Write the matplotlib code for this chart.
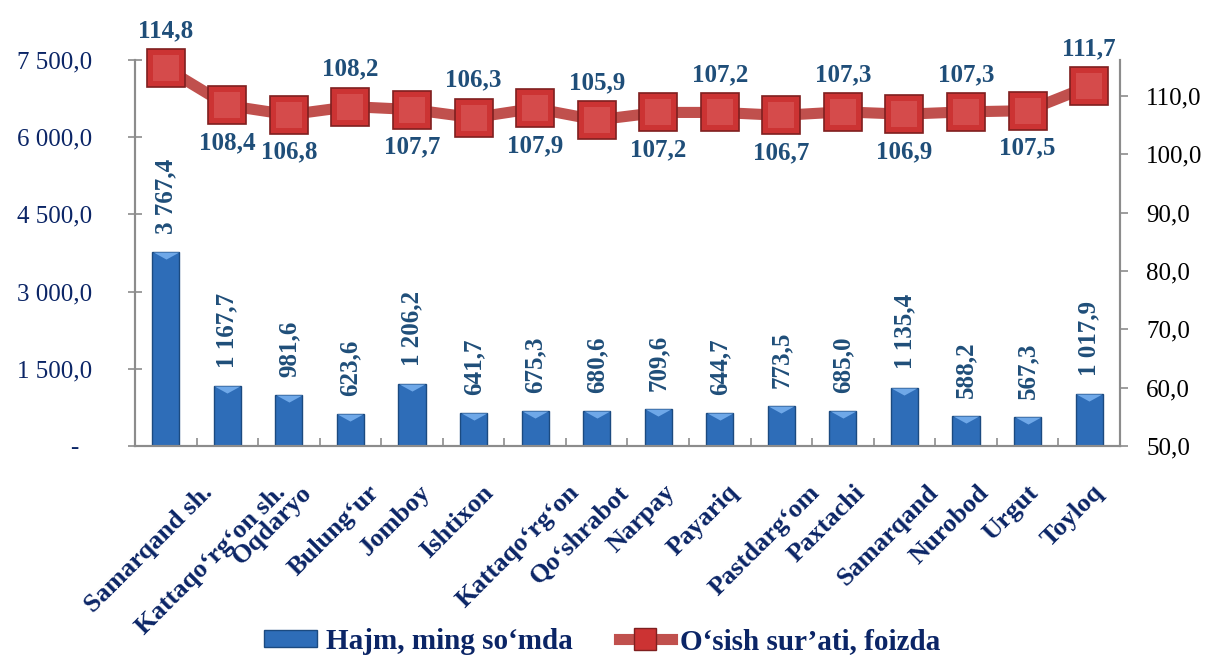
import matplotlib
matplotlib.use("Agg")
import matplotlib.pyplot as plt
from matplotlib.lines import Line2D
from matplotlib.patches import Patch
from matplotlib.path import Path
from matplotlib.markers import MarkerStyle
import numpy as np

categories = ["Samarqand sh.", "Kattaqo‘rg‘on sh.", "Oqdaryo", "Bulung‘ur", "Jomboy",
              "Ishtixon", "Kattaqo‘rg‘on", "Qo‘shrabot", "Narpay", "Payariq",
              "Pastdarg‘om", "Paxtachi", "Samarqand", "Nurobod", "Urgut", "Toyloq"]
volume = [3767.4, 1167.7, 981.6, 623.6, 1206.2, 641.7, 675.3, 680.6, 709.6, 644.7,
          773.5, 685.0, 1135.4, 588.2, 567.3, 1017.9]
growth = [114.8, 108.4, 106.8, 108.2, 107.7, 106.3, 107.9, 105.9, 107.2, 107.2,
          106.7, 107.3, 106.9, 107.3, 107.5, 111.7]
growth_label_above = [True, False, False, True, False, True, False, True, False, True,
                      False, True, False, True, False, True]
left_ticks = [0, 1500, 3000, 4500, 6000, 7500]
right_ticks = [50, 60, 70, 80, 90, 100, 110]
legend_labels = ["Hajm, ming so‘mda", "O‘sish sur’ati, foizda"]

SERIF = ["Liberation Serif", "DejaVu Serif"]
plt.rcParams["font.family"] = SERIF

NAVY = "#0B2566"
LBL = "#1F4E79"
BAR = "#2E6DB8"
BAR_LIGHT = "#6FA8E8"
BAR_EDGE = "#1B4A80"
LINE = "#C0504D"
MARK = "#CC3333"
MARK_EDGE = "#7F1F1F"
MARK_LIGHT = "#E06A6A"
AXC = "#8C8C8C"

fig = plt.figure(figsize=(12.05, 6.61), dpi=100)
ax = fig.add_axes([0.1120, 0.3253, 0.8174, 0.5840])
ax2 = ax.twinx()

x = np.arange(len(categories))
BW = 0.44
ax.bar(x, volume, width=BW, color=BAR, edgecolor=BAR_EDGE, linewidth=1.0, zorder=2)
# bevel highlight at top of each bar
tri = MarkerStyle(Path([(-1, 0), (1, 0), (0, -0.55), (-1, 0)],
                       [Path.MOVETO, Path.LINETO, Path.LINETO, Path.CLOSEPOLY]))
ax.plot(x, volume, linestyle="none", marker=tri, markersize=18.5,
        markerfacecolor=BAR_LIGHT, markeredgewidth=0, zorder=3)
ax.set_xlim(-0.5, len(categories) - 0.5)
ax.set_ylim(0, 7500)

def fmt_left(v):
    if v == 0:
        return "-\u2007"
    s = f"{v:,.1f}"
    return s.replace(",", " ").replace(".", ",")

ax.set_yticks(left_ticks)
ax.set_yticklabels([fmt_left(v) for v in left_ticks])
ax.tick_params(axis="y", direction="inout", length=10, width=1.2, color=AXC,
               labelsize=18, labelcolor=NAVY, pad=26)
ax.set_xticks(x[:-1] + 0.5)
ax.set_xticklabels([])
ax.tick_params(axis="x", direction="in", length=6, width=1.2, color=AXC)

for s in ["top"]:
    ax.spines[s].set_visible(False)
    ax2.spines[s].set_visible(False)
for s in ["left", "bottom", "right"]:
    ax.spines[s].set_color(AXC)
    ax.spines[s].set_linewidth(1.5)
    ax2.spines[s].set_color(AXC)
    ax2.spines[s].set_linewidth(1.5)

# bar value labels
for xi, v in zip(x, volume):
    ax.annotate(fmt_left(v), xy=(xi, v), xytext=(0, 13), textcoords="offset points",
                ha="center", va="bottom", rotation=90, fontsize=18, fontweight="bold",
                color=LBL, annotation_clip=False)

# category labels
for xi, c in zip(x, categories):
    ax.annotate(c, xy=(xi, 0), xycoords=("data", "axes fraction"), xytext=(-12, -25),
                textcoords="offset points", ha="center", va="top", rotation=45,
                fontsize=19, fontweight="bold", color=NAVY, annotation_clip=False)

# growth line
ax2.plot(x, growth, color=LINE, linewidth=8, solid_capstyle="butt", zorder=3,
         clip_on=False)
ax2.plot(x, growth, linestyle="none", marker="s", markersize=27, markerfacecolor=MARK,
         markeredgecolor=MARK_EDGE, markeredgewidth=1.2, zorder=4, clip_on=False)
ax2.plot(x, growth, linestyle="none", marker="s", markersize=19, markerfacecolor=MARK_LIGHT,
         markeredgewidth=0, alpha=0.45, zorder=4.5, clip_on=False)
ax2.set_ylim(50, 116.2)
ax2.set_yticks(right_ticks)
ax2.set_yticklabels([f"{v:.1f}".replace(".", ",") for v in right_ticks])
ax2.tick_params(axis="y", direction="out", length=6, width=1.2, color=AXC,
                labelsize=18, labelcolor="black", pad=13)

for xi, v, above in zip(x, growth, growth_label_above):
    ax2.annotate(f"{v:.1f}".replace(".", ","), xy=(xi, v),
                 xytext=(0, 27 if above else -27), textcoords="offset points",
                 ha="center", va="center", fontsize=18, fontweight="bold",
                 color=LBL, annotation_clip=False, zorder=5)

handles = [Patch(facecolor=BAR, edgecolor=BAR_EDGE),
           Line2D([0], [0], color=LINE, linewidth=8, marker="s", markersize=16,
                  markerfacecolor=MARK, markeredgecolor=MARK_EDGE)]
leg = fig.legend(handles, legend_labels, loc="center", bbox_to_anchor=(0.5, 0.03),
                 ncol=2, frameon=False, handlelength=1.8, handleheight=0.55,
                 handletextpad=0.3, columnspacing=1.6,
                 prop={"family": SERIF, "size": 21, "weight": "bold"})
for t in leg.get_texts():
    t.set_color(NAVY)

fig.savefig("out.png", dpi=100)
